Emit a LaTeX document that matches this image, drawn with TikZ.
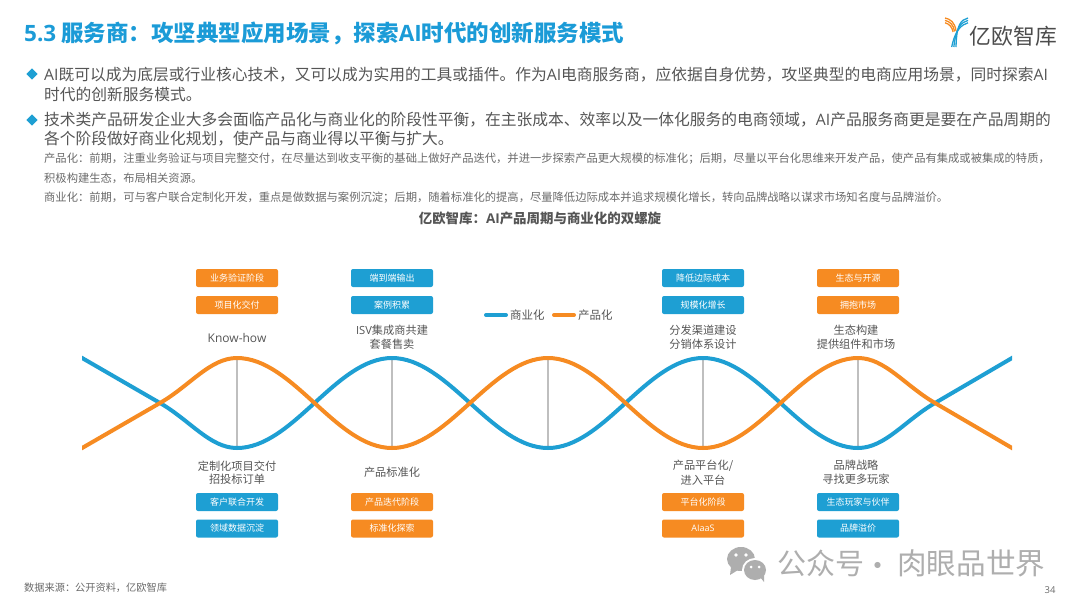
\documentclass[tikz,border=0pt]{standalone}
\usetikzlibrary{shapes.geometric}
\usepackage{fontspec}
\setmainfont{Noto Sans CJK SC}
\newfontfamily\latf{Open Sans}
\newcommand{\lat}[1]{{\latf #1}}
\definecolor{bluec}{HTML}{1E9FD3}
\definecolor{orangec}{HTML}{F68B22}
\definecolor{titlec}{HTML}{1B9BD7}
\definecolor{bodyc}{HTML}{555555}
\definecolor{smallc}{HTML}{6A6A6A}
\definecolor{wmc}{HTML}{AEAEAE}
\newcommand{\fs}[1]{\fontsize{#1}{#1}\selectfont}
\tikzset{
  txt/.style={inner sep=0pt,anchor=west,text=bodyc},
  bodyline/.style={txt,font=\fs{15.75}},
  smallline/.style={txt,text=smallc,font=\fs{11.3}},
  bullet/.style={diamond,fill=bluec,inner sep=0pt,minimum width=11.5pt,minimum height=11.5pt},
  tagbox/.style={rounded corners=2pt,minimum width=82pt,minimum height=18pt,inner sep=0pt,text=white,font=\fs{9}},
  bluebox/.style={tagbox,fill=bluec},
  orangebox/.style={tagbox,fill=orangec},
  lab/.style={inner sep=0pt,align=center,text=bodyc,font=\fs{11.2}},
  curve/.style={line width=4pt},
  legline/.style={line width=4pt,line cap=round},
  spoke/.style={line width=1.3pt,draw=black!25},
}
\begin{document}
\begin{tikzpicture}[x=1pt,y=-1pt]
\useasboundingbox (0,0) rectangle (1080,608);
% header
\node[txt,text=titlec,font=\bfseries\fs{22.5}] (title) at (24,33) {\lat{\bfseries 5.3} 服务商：攻坚典型应用场景，探索\lat{\bfseries AI}时代的创新服务模式};
% logo
\begin{scope}[line width=1.3pt]
  \foreach \d in {0,2.4,4.8}{
    \draw[orangec] (945,{18+\d}) .. controls ({950-\d*.2},{19+\d}) and ({955-\d*.6},{22+\d}) .. ({956-\d*.6},{31+\d*.2});
    \draw[bluec] (968,{18+\d}) .. controls ({961+\d*.2},{20+\d}) and ({956.5-\d*.2},{24+\d}) .. ({956-\d*.9},47);
  }
\end{scope}
\node[inner sep=0pt,text=black!70,font=\fs{21.8}] (logotext) at (1013.5,36) {亿欧智库};
% bullets
\node[bullet] (b1) at (32,74) {};
\node[bullet] (b2) at (32,120) {};
\node[bodyline] (l1) at (44,75) {\lat{AI}既可以成为底层或行业核心技术，又可以成为实用的工具或插件。作为\lat{AI}电商服务商，应依据自身优势，攻坚典型的电商应用场景，同时探索\lat{AI}};
\node[bodyline] (l2) at (44,94) {时代的创新服务模式。};
\node[bodyline] (l3) at (44,120) {技术类产品研发企业大多会面临产品化与商业化的阶段性平衡，在主张成本、效率以及一体化服务的电商领域，\lat{AI}产品服务商更是要在产品周期的};
\node[bodyline] (l4) at (44,139) {各个阶段做好商业化规划，使产品与商业得以平衡与扩大。};
\node[smallline] (s1) at (44,159) {产品化：前期，注重业务验证与项目完整交付，在尽量达到收支平衡的基础上做好产品迭代，并进一步探索产品更大规模的标准化；后期，尽量以平台化思维来开发产品，使产品有集成或被集成的特质，};
\node[smallline] (s2) at (44,178) {积极构建生态，布局相关资源。};
\node[smallline] (s3) at (44,197.5) {商业化：前期，可与客户联合定制化开发，重点是做数据与案例沉淀；后期，随着标准化的提高，尽量降低边际成本并追求规模化增长，转向品牌战略以谋求市场知名度与品牌溢价。};
\node[inner sep=0pt,text=bodyc,font=\bfseries\fs{13.45}] (sub) at (540,218) {亿欧智库：\lat{\bfseries AI}产品周期与商业化的双螺旋};
% extremes of the helix
\foreach \n/\x in {1/237,2/392,3/548,4/703,5/858}{
  \coordinate (up\n) at (\x,358);
  \coordinate (dn\n) at (\x,448);
  \draw[spoke] (up\n) -- (dn\n);
}
\coordinate (bstart) at (70,351);\coordinate (xa) at (160,403);
\coordinate (ostart) at (70,455);
\coordinate (bend) at (1024,351);\coordinate (xb) at (935,403);
\coordinate (oend) at (1024,455);
\begin{scope}
\clip (82,340) rectangle (1012,470);
\draw[curve,bluec] (bstart) -- (xa) .. controls (190,420.3) and (210,448) .. (dn1)
  .. controls (293,448) and (336,358) .. (up2)
  .. controls (448,358) and (492,448) .. (dn3)
  .. controls (604,448) and (647,358) .. (up4)
  .. controls (759,358) and (802,448) .. (dn5)
  .. controls (885,448) and (905,420.3) .. (xb) -- (bend);
\draw[curve,orangec] (ostart) -- (xa) .. controls (190,385.7) and (210,358) .. (up1)
  .. controls (293,358) and (336,448) .. (dn2)
  .. controls (448,448) and (492,358) .. (up3)
  .. controls (604,358) and (647,448) .. (dn4)
  .. controls (759,448) and (802,358) .. (up5)
  .. controls (885,358) and (905,385.7) .. (xb) -- (oend);
\end{scope}
% legend
\coordinate (la) at (486,315);\coordinate (lb) at (506,315);
\coordinate (lc) at (554,315);\coordinate (ld) at (574,315);
\draw[legline,bluec] (la) -- (lb);
\draw[legline,orangec] (lc) -- (ld);
\node[txt,font=\fs{11.5}] (leg1) at (510,315) {商业化};
\node[txt,font=\fs{11.5}] (leg2) at (578,315) {产品化};
% top tags
\node[orangebox] (t1a) at (237,278) {业务验证阶段};
\node[orangebox] (t1b) at (237,305) {项目化交付};
\node[bluebox] (t2a) at (392,278) {端到端输出};
\node[bluebox] (t2b) at (392,305) {案例积累};
\node[bluebox] (t4a) at (703,278) {降低边际成本};
\node[bluebox] (t4b) at (703,305) {规模化增长};
\node[orangebox] (t5a) at (858,278) {生态与开源};
\node[orangebox] (t5b) at (858,305) {拥抱市场};
% top labels
\node[lab,font=\fs{12}] (u1) at (237,338) {\lat{Know-how}};
\node[lab] (u2) at (392,337.5) {\lat{ISV}集成商共建\\[2.4pt]套餐售卖};
\node[lab] (u4) at (703,337.5) {分发渠道建设\\[2.4pt]分销体系设计};
\node[lab] (u5) at (856,337.5) {生态构建\\[2.4pt]提供组件和市场};
% bottom labels
\node[lab] (d1) at (237,472.5) {定制化项目交付\\[2.4pt]招投标订单};
\node[lab] (d2) at (392,472.5) {产品标准化};
\node[lab] (d4) at (703,472.5) {产品平台化/\\[2.4pt]进入平台};
\node[lab] (d5) at (856,472.5) {品牌战略\\[2.4pt]寻找更多玩家};
% bottom tags
\node[bluebox] (b1a) at (237,502) {客户联合开发};
\node[bluebox] (b1b) at (237,528.5) {领域数据沉淀};
\node[orangebox] (b2a) at (392,502) {产品迭代阶段};
\node[orangebox] (b2b) at (392,528.5) {标准化探索};
\node[orangebox] (b4a) at (703,502) {平台化阶段};
\node[orangebox] (b4b) at (703,528.5) {\lat{AIaaS}};
\node[bluebox] (b5a) at (858,502) {生态玩家与伙伴};
\node[bluebox] (b5b) at (858,528.5) {品牌溢价};
% footer
\node[txt,text=smallc,font=\fs{10.2}] (src) at (24,588) {数据来源：公开资料，亿欧智库};
\node[inner sep=0pt,text=smallc,font=\fs{9.5}] (page) at (1050,590) {\lat{34}};
% watermark
\fill[wmc] (741,559) ellipse (14 and 12);
\fill[wmc] (731,567) -- (730,575) -- (738,570) -- cycle;
\fill[white] (755,570) ellipse (13 and 12);
\fill[wmc] (755,570) ellipse (11 and 10);
\fill[wmc] (760,577) -- (764,582) -- (764,574) -- cycle;
\fill[white] (736,555) circle (1.8) (746,555) circle (1.8) (751,567) circle (1.5) (759,567) circle (1.5);
\node[txt,text=wmc,font=\fs{29}] (wm1) at (777,563) {公众号};
\node[inner sep=0pt,text=wmc,font=\fs{29}] (wmdot) at (878,569) {·};
\node[txt,text=wmc,font=\fs{29.6}] (wm2) at (897,563) {肉眼品世界};
\end{tikzpicture}
\end{document}
